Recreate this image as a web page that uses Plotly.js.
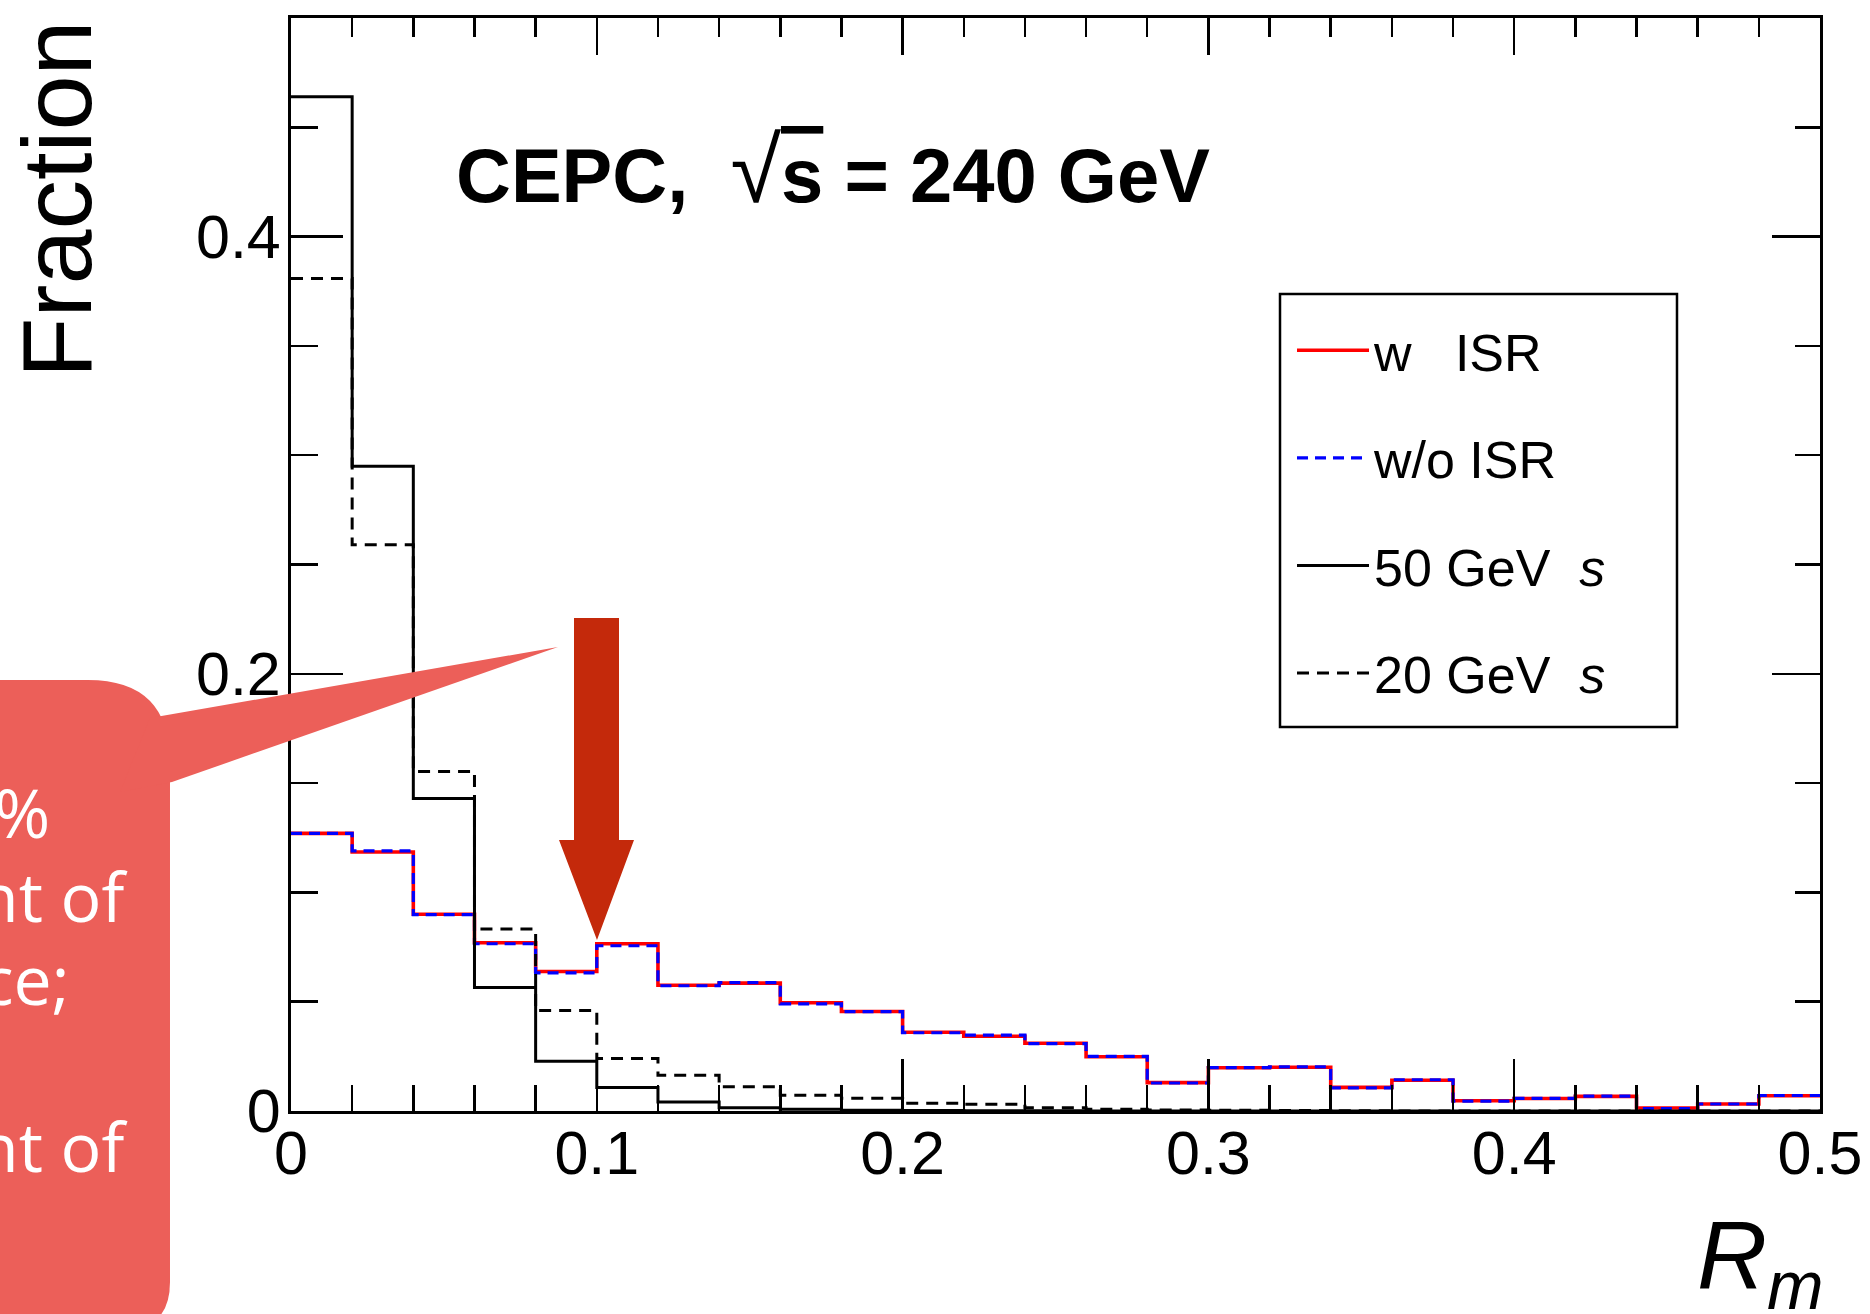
<!DOCTYPE html>
<html><head><meta charset="utf-8">
<script src="https://cdn.plot.ly/plotly-3.0.1.min.js"></script>
<style>html,body{margin:0;padding:0;background:#fff}#chart{width:1870px;height:1314px}</style>
</head><body><div id="chart"></div>
<script>
// ---- data ----
const binEdges = [0,0.02,0.04,0.06,0.08,0.10,0.12,0.14,0.16,0.18,0.20,0.22,0.24,0.26,0.28,0.30,0.32,0.34,0.36,0.38,0.40,0.42,0.44,0.46,0.48,0.50];
const wISR  = [0.1270,0.1185,0.0900,0.0770,0.0638,0.0765,0.0575,0.0585,0.0495,0.0455,0.0360,0.0342,0.0310,0.0248,0.0130,0.0198,0.0200,0.0108,0.0141,0.0047,0.0057,0.0067,0.0014,0.0032,0.0070];
const woISR = [0.1270,0.1190,0.0898,0.0765,0.0632,0.0756,0.0573,0.0587,0.0490,0.0455,0.0358,0.0347,0.0308,0.0250,0.0128,0.0198,0.0202,0.0106,0.0143,0.0045,0.0058,0.0068,0.0011,0.0032,0.0071];
const s50   = [0.4640,0.2950,0.1430,0.0565,0.0228,0.0108,0.0041,0.0015,0.0008,0.0004,0.0002,0.0001,0.0001,0,0,0,0,0,0,0,0,0,0,0,0];
const s20   = [0.3808,0.2590,0.1553,0.0832,0.0460,0.0240,0.0163,0.0111,0.0072,0.0058,0.0035,0.0031,0.0015,0.0008,0.0005,0.0003,0.0002,0.0001,0,0,0,0,0,0,0];
const seriesNames = ["w\u00a0\u00a0\u00a0ISR","w/o ISR","50 GeV\u00a0 <i>s</i>","20 GeV\u00a0 <i>s</i>"];
const xTickVals = [0,0.1,0.2,0.3,0.4,0.5];
const xTickText = ["0","0.1","0.2","0.3","0.4","0.5"];
const yTickVals = [0,0.2,0.4];
const yTickText = ["0","0.2","0.4"];
const calloutLines = ["%","nt of","ce;","nt of"];

// ---- geometry helpers (decorations only) ----
const W=1870,H=1314,ML=291,MR=50,MT=18,MB=203;
const PW=W-ML-MR, PH=H-MT-MB;
const fx = x => ((x-ML)/PW).toFixed(5);
const fy = y => ((H-MB-y)/PH).toFixed(5);
function path(cmds){
  return cmds.map(c=>{
    let s=c[0];
    for(let i=1;i<c.length;i+=2){ s+=(i>1?' ':'')+fx(c[i])+','+fy(c[i+1]); }
    return s;
  }).join(' ')+' Z';
}
const stepY = v => v.concat([v[v.length-1]]);

const FONT="Liberation Sans, Arial, sans-serif";
const traces = [
  {x:binEdges,y:stepY(wISR),name:seriesNames[0],legendgroup:'a',mode:'lines',line:{shape:'hv',color:'#ff0000',width:3.6}},
  {x:binEdges,y:stepY(woISR),name:seriesNames[1],legendgroup:'b',mode:'lines',line:{shape:'hv',color:'#0000ff',width:3.2,dash:'11px,7px'}},
  {x:binEdges,y:stepY(s50),name:seriesNames[2],legendgroup:'c',mode:'lines',line:{shape:'hv',color:'#000000',width:3}},
  {x:binEdges,y:stepY(s20),name:seriesNames[3],legendgroup:'d',mode:'lines',line:{shape:'hv',color:'#000000',width:3,dash:'12px,8px'}},
  {x:[],y:[],xaxis:'x2',yaxis:'y2',showlegend:false,hoverinfo:'skip',mode:'lines'}
];

const BUBBLE='#ec5f59', ARROW='#c4290b';
const shapes = [
  {type:'path',xref:'paper',yref:'paper',layer:'above',fillcolor:BUBBLE,line:{width:0},
   path:path([['M',-30,680],['L',88,680],['Q',170,680,170,762],['L',170,1282],['Q',170,1330,122,1330],['L',-30,1330]])},
  {type:'path',xref:'paper',yref:'paper',layer:'above',fillcolor:BUBBLE,line:{width:0},
   path:path([['M',150,718],['L',558,647],['L',172,782],['L',120,792]])},
  {type:'path',xref:'paper',yref:'paper',layer:'above',fillcolor:ARROW,line:{width:0},
   path:path([['M',574,618],['L',619,618],['L',619,840],['L',634,840],['L',597,940],['L',559,840],['L',574,840]])},
  {type:'rect',xref:'paper',yref:'paper',layer:'above',x0:fx(1280),x1:fx(1677),y0:fy(294),y1:fy(727),line:{color:'#000',width:2.5}}
];

const calloutBase=[838,922,1005,1173], calloutRight=[52,130,72,130];
const annotations = [
  {xref:'paper',yref:'paper',x:fx(454),y:fy(170),xanchor:'left',yanchor:'middle',showarrow:false,
   text:"<b>CEPC,\u00a0\u00a0</b><span style='font-size:92px'>√</span><b><span style='text-decoration:overline'>s</span> = 240 GeV</b>",
   font:{family:FONT,size:76,color:'#000'}},
  {xref:'paper',yref:'paper',x:fx(56),y:1,xanchor:'center',yanchor:'top',showarrow:false,textangle:-90,
   text:'Fraction',font:{family:FONT,size:99,color:'#000'}},
  {xref:'paper',yref:'paper',x:fx(1826),y:fy(1262),xanchor:'right',yanchor:'middle',showarrow:false,
   text:'<i>R</i><sub><i>m</i></sub>',font:{family:FONT,size:97,color:'#000'}}
];
calloutLines.forEach((t,i)=>annotations.push({xref:'paper',yref:'paper',x:fx(calloutRight[i]),y:fy(calloutBase[i]-27),
  xanchor:'right',yanchor:'middle',showarrow:false,text:t,font:{family:'Open Sans, sans-serif',size:68,color:'#fff'}}));

const tickFont={family:FONT,size:61,color:'#000'};
const layout = {
  width:W,height:H,margin:{l:ML,r:MR,t:MT,b:MB,pad:0},
  paper_bgcolor:'#fff',plot_bgcolor:'#fff',
  font:{family:FONT,color:'#000'},
  showlegend:true,
  legend:{x:fx(1292),y:fy(310),xanchor:'left',yanchor:'top',bgcolor:'rgba(0,0,0,0)',borderwidth:0,
    font:{family:FONT,size:52,color:'#000'},itemwidth:72,tracegroupgap:37,traceorder:'grouped'},
  xaxis:{range:[0,0.5],tickmode:'array',tickvals:xTickVals,ticktext:xTickText,ticks:'inside',ticklen:52,tickwidth:2.5,tickcolor:'#000',
    minor:{tickmode:'linear',tick0:0,dtick:0.02,ticks:'inside',ticklen:26,tickwidth:2.5,tickcolor:'#000'},
    showline:true,linewidth:3,linecolor:'#000',showgrid:false,zeroline:false,tickfont:tickFont,ticklabelstandoff:-13,fixedrange:true},
  yaxis:{range:[0,0.5],tickmode:'array',tickvals:yTickVals,ticktext:yTickText,ticks:'inside',ticklen:52,tickwidth:2.5,tickcolor:'#000',
    minor:{tickmode:'linear',tick0:0,dtick:0.05,ticks:'inside',ticklen:27,tickwidth:2.5,tickcolor:'#000'},
    showline:true,linewidth:3,linecolor:'#000',showgrid:false,zeroline:false,tickfont:tickFont,ticklabelstandoff:-5,fixedrange:true},
  xaxis2:{overlaying:'x',side:'top',anchor:'y',range:[0,0.5],tickmode:'linear',tick0:0,dtick:0.1,ticks:'inside',ticklen:37,tickwidth:2.5,tickcolor:'#000',
    minor:{tickmode:'linear',tick0:0,dtick:0.02,ticks:'inside',ticklen:19,tickwidth:2.5,tickcolor:'#000'},
    showticklabels:false,showline:true,linewidth:3,linecolor:'#000',showgrid:false,zeroline:false},
  yaxis2:{overlaying:'y',side:'right',anchor:'x',range:[0,0.5],tickmode:'linear',tick0:0,dtick:0.2,ticks:'inside',ticklen:48,tickwidth:2.5,tickcolor:'#000',
    minor:{tickmode:'linear',tick0:0,dtick:0.05,ticks:'inside',ticklen:25,tickwidth:2.5,tickcolor:'#000'},
    showticklabels:false,showline:true,linewidth:3,linecolor:'#000',showgrid:false,zeroline:false},
  shapes:shapes,annotations:annotations
};
Plotly.newPlot('chart',traces,layout,{displayModeBar:false,staticPlot:true});
</script></body></html>
